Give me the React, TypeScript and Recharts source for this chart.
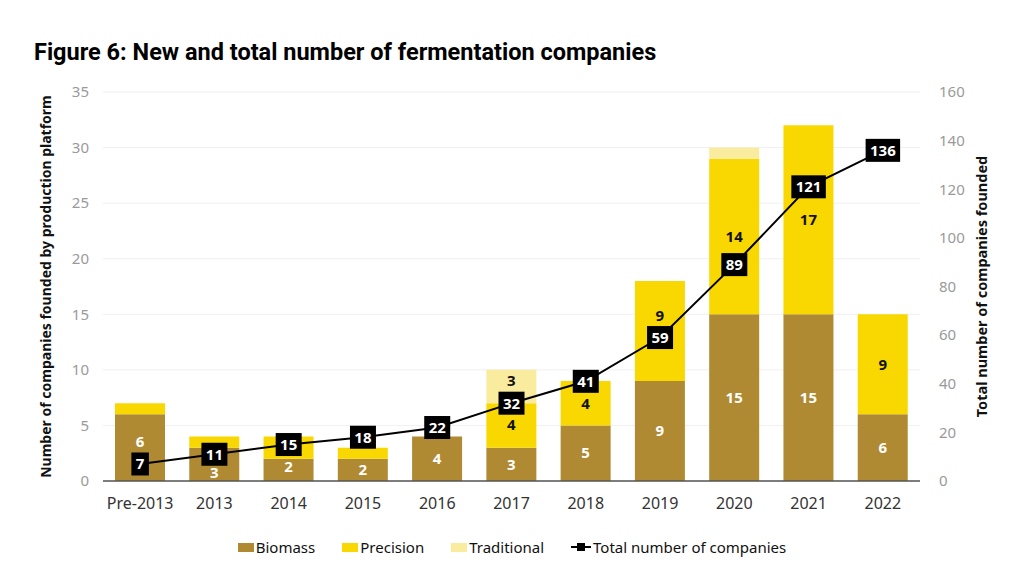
import { ComposedChart, Bar, Line, XAxis, YAxis, CartesianGrid, LabelList } from 'recharts'

const years = ['Pre-2013', '2013', '2014', '2015', '2016', '2017', '2018', '2019', '2020', '2021', '2022']
const biomass = [6, 3, 2, 2, 4, 3, 5, 9, 15, 15, 6]
const precision = [1, 1, 2, 1, 0, 4, 4, 9, 14, 17, 9]
const traditional = [0, 0, 0, 0, 0, 3, 0, 0, 1, 0, 0]
const totals = [7, 11, 15, 18, 22, 32, 41, 59, 89, 121, 136]

const leftTicks = [0, 5, 10, 15, 20, 25, 30, 35]
const rightTicks = [0, 20, 40, 60, 80, 100, 120, 140, 160]
const LEFT_MAX = 35
const RIGHT_MAX = 160

const BIOMASS = '#B08A33'
const PRECISION = '#F8D800'
const TRADITIONAL = '#FAEC9E'
const FONT = '"Noto Sans", "Open Sans", sans-serif'

const data = years.map((year, i) => ({
  year,
  biomass: biomass[i],
  precision: precision[i],
  traditional: traditional[i],
  total: totals[i],
}))

const rowIndex = (d: any) => years.indexOf(d.year)

// value label in the middle of a stacked segment; nudged off the total box if they collide
// (the label's "value" is the row index, zero-height segments get skipped by recharts)
const segmentLabel = (color: string, minValue: number, series: number[], bases: number[]) => (props: any) => {
  const { x, y, width, height, value: i } = props
  const v = series[i]
  if (!v || v < minValue) return null
  let cy = y + height / 2
  const pxPerUnit = height / v
  const boxY = y + height - (totals[i] * LEFT_MAX / RIGHT_MAX - bases[i]) * pxPerUnit
  if (Math.abs(cy - boxY) < 26) {
    cy = cy < boxY ? boxY - 22 : Math.min(boxY + 22, y + height - 8)
  }
  return (
    <text
      x={x + width / 2}
      y={cy}
      dy="0.35em"
      textAnchor="middle"
      fill={color}
      fontSize={15}
      fontWeight={700}
      fontFamily={FONT}
    >
      {v}
    </text>
  )
}

const TotalDot = (props: any) => {
  const { cx, cy, value } = props
  if (cx == null || cy == null) return null
  const w = String(value).length * 8.5 + 9
  return (
    <g>
      <rect x={cx - w / 2} y={cy - 11.5} width={w} height={23} fill="#000" />
      <text x={cx} y={cy} dy="0.36em" textAnchor="middle" fill="#fff" fontSize={15} fontWeight={700} fontFamily={FONT}>
        {value}
      </text>
    </g>
  )
}

const LeftTick = (props: any) => {
  const { x, y, payload } = props
  return (
    <text x={x - 6} y={y} dy="0.35em" textAnchor="end" fill="#9a9a9a" fontSize={15} fontFamily={FONT}>
      {payload.value}
    </text>
  )
}

const RightTick = (props: any) => {
  const { x, y, payload } = props
  return (
    <text x={x + 11} y={y} dy="0.35em" textAnchor="start" fill="#9a9a9a" fontSize={15} fontFamily={FONT}>
      {payload.value}
    </text>
  )
}

const legendItems = [
  { label: 'Biomass', color: BIOMASS, type: 'box' },
  { label: 'Precision', color: PRECISION, type: 'box' },
  { label: 'Traditional', color: TRADITIONAL, type: 'box' },
  { label: 'Total number of companies', color: '#000', type: 'line' },
]

const zeros = years.map(() => 0)
const precisionBase = biomass
const traditionalBase = biomass.map((b, i) => b + precision[i])

export default function App() {
  return (
    <div style={{ position: 'absolute', left: 0, top: 0, width: 1024, height: 572, background: '#fff', fontFamily: FONT }}>
      <div
        style={{
          position: 'absolute',
          left: 34,
          top: 38,
          fontFamily: 'Roboto, sans-serif',
          fontWeight: 700,
          fontSize: 23.5,
          color: '#000',
          whiteSpace: 'nowrap',
        }}
      >
        Figure 6: New and total number of fermentation companies
      </div>
      <div style={{ position: 'absolute', left: 0, top: 0 }}>
        <ComposedChart width={1024} height={572} data={data} margin={{ top: 92, right: 0, left: 0, bottom: 61 }}>
          <CartesianGrid yAxisId="left" vertical={false} stroke="#f0f0f0" />
          <XAxis
            dataKey="year"
            tickLine={false}
            axisLine={{ stroke: '#555', strokeWidth: 1.5 }}
            tickMargin={11}
            tick={{ fill: '#333', fontSize: 16, fontFamily: FONT }}
            height={30}
          />
          <YAxis
            yAxisId="left"
            width={103}
            domain={[0, LEFT_MAX]}
            ticks={leftTicks}
            tickLine={false}
            axisLine={false}
            tick={<LeftTick />}
            label={{
              value: 'Number of companies founded by production platform',
              angle: -90,
              position: 'insideLeft',
              offset: 46,
              style: { textAnchor: 'middle', fontSize: 14, fontWeight: 700, fill: '#111', fontFamily: FONT },
            }}
          />
          <YAxis
            yAxisId="right"
            orientation="right"
            width={104}
            domain={[0, RIGHT_MAX]}
            ticks={rightTicks}
            tickLine={false}
            axisLine={false}
            tick={<RightTick />}
            label={{
              value: 'Total number of companies founded',
              angle: -90,
              position: 'insideRight',
              offset: 42,
              style: { textAnchor: 'middle', fontSize: 14.5, fontWeight: 700, fill: '#111', fontFamily: FONT },
            }}
          />
          <Bar yAxisId="left" dataKey="biomass" stackId="a" fill={BIOMASS} barSize={50} isAnimationActive={false}>
            <LabelList dataKey={rowIndex} content={segmentLabel('#fff', 1, biomass, zeros)} />
          </Bar>
          <Bar yAxisId="left" dataKey="precision" stackId="a" fill={PRECISION} barSize={50} isAnimationActive={false}>
            <LabelList dataKey={rowIndex} content={segmentLabel('#111', 3, precision, precisionBase)} />
          </Bar>
          <Bar yAxisId="left" dataKey="traditional" stackId="a" fill={TRADITIONAL} barSize={50} isAnimationActive={false}>
            <LabelList dataKey={rowIndex} content={segmentLabel('#111', 2, traditional, traditionalBase)} />
          </Bar>
          <Line
            yAxisId="right"
            type="linear"
            dataKey="total"
            stroke="#000"
            strokeWidth={2}
            dot={<TotalDot />}
            activeDot={false}
            isAnimationActive={false}
          />
        </ComposedChart>
      </div>
      <div
        style={{
          position: 'absolute',
          top: 537,
          left: 0,
          width: 1024,
          display: 'flex',
          justifyContent: 'center',
          gap: 27,
          fontSize: 15,
          color: '#111',
        }}
      >
        {legendItems.map((it) => (
          <div key={it.label} style={{ display: 'flex', alignItems: 'center', gap: 2 }}>
            {it.type === 'box' ? (
              <span style={{ display: 'inline-block', width: 16, height: 9, background: it.color }} />
            ) : (
              <svg width={20} height={10}>
                <line x1={0} y1={5} x2={20} y2={5} stroke="#000" strokeWidth={2} />
                <rect x={6} y={1} width={8} height={8} fill="#000" />
              </svg>
            )}
            <span>{it.label}</span>
          </div>
        ))}
      </div>
    </div>
  )
}
